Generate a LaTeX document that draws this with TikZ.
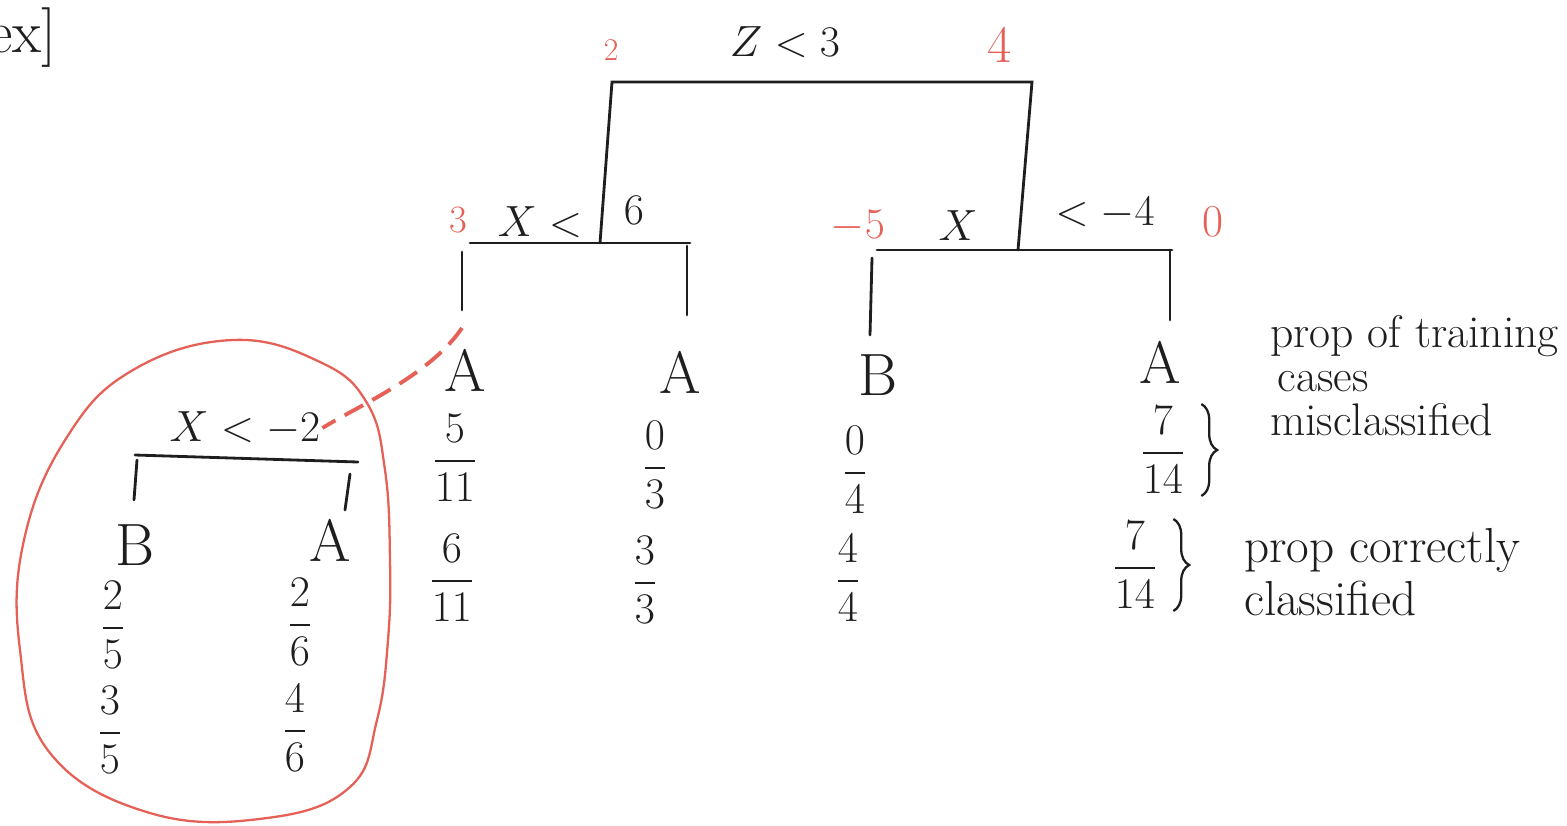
\documentclass[tikz,border=0pt]{standalone}
\usepackage{amsmath}
\usepackage{tikz}
\usetikzlibrary{positioning,calc,decorations.pathreplacing}
\usepackage{xcolor}
\definecolor{penred}{RGB}{229,96,86}
\definecolor{pencil}{RGB}{30,30,30}

\begin{document}
\begin{tikzpicture}[x=0.02cm, y=-0.02cm,
    branch/.style={draw=pencil, line width=1.6pt, line cap=round},
    splitlbl/.style={font=\fontsize{30}{32}\selectfont, text=pencil, inner sep=1pt},
    bound/.style={font=\fontsize{22}{24}\selectfont, text=penred, inner sep=1pt},
    leaf/.style={font=\fontsize{34}{36}\selectfont, text=pencil, inner sep=1pt},
    ratio/.style={font=\fontsize{26}{28}\selectfont, text=pencil, inner sep=1pt},
    note/.style={font=\fontsize{26}{25}\selectfont, text=pencil, align=left, anchor=west, inner sep=1pt},
    brace/.style={decorate, decoration={brace, amplitude=9pt}, draw=pencil, line width=1.3pt}
]
\useasboundingbox (0,0) rectangle (1567,825);

\node[leaf, anchor=west] (ex) at (-14,38) {ex]};

% root split
\node[splitlbl] (root) at (785,42) {$Z<3$};
\node[bound, font=\fontsize{18}{20}\selectfont] (rlo) at (611,50) {2};
\node[bound, font=\fontsize{30}{32}\selectfont] (rhi) at (1000,45) {4};
\coordinate (rbl) at (612,82);
\coordinate (rbr) at (1032,82);
\coordinate (rl) at (600,243);
\coordinate (rr) at (1018,250);
\draw[branch] (rl) -- (rbl) -- (rbr) -- (rr);

% left split
\node[bound] (llo) at (458,220) {3};
\node[splitlbl] (lsplit) at (540,222) {$X<$};
\node[splitlbl] (lhi) at (634,210) {$6$};
\coordinate (lbl) at (470,243);
\coordinate (lbr) at (690,243);
\draw[branch] (lbl) -- (lbr);
\coordinate (l1t) at (462,252);
\coordinate (l1b) at (462,310);
\coordinate (l2t) at (687,246);
\coordinate (l2b) at (687,315);
\draw[branch] (l1t) -- (l1b);
\draw[branch] (l2t) -- (l2b);

% right split
\node[bound, font=\fontsize{26}{28}\selectfont] (rslo) at (858,226) {$-5$};
\node[splitlbl] (rsplit) at (958,226) {$X$};
\node[splitlbl] (rshi) at (1105,213) {$<-4$};
\node[bound, font=\fontsize{26}{28}\selectfont] (rsz) at (1213,222) {0};
\coordinate (sbl) at (877,250);
\coordinate (sbr) at (1172,250);
\draw[branch] (sbl) -- (sbr);
\coordinate (s1t) at (872,258);
\coordinate (s1b) at (870,335);
\coordinate (s2t) at (1170,250);
\coordinate (s2b) at (1170,320);
\draw[branch] (s1t) -- (s1b);
\draw[branch] (s2t) -- (s2b);

% leaves
\node[leaf] (a1) at (465,370) {A};
\node[ratio] (a1m) at (455,458) {$\dfrac{5}{11}$};
\node[ratio] (a1c) at (452,578) {$\dfrac{6}{11}$};
\node[leaf] (a2) at (680,372) {A};
\node[ratio] (a2m) at (655,465) {$\dfrac{0}{3}$};
\node[ratio] (a2c) at (645,580) {$\dfrac{3}{3}$};
\node[leaf] (b3) at (878,375) {B};
\node[ratio] (b3m) at (855,470) {$\dfrac{0}{4}$};
\node[ratio] (b3c) at (848,578) {$\dfrac{4}{4}$};
\node[leaf] (a4) at (1160,362) {A};
\node[ratio] (a4m) at (1163,450) {$\dfrac{7}{14}$};
\node[ratio] (a4c) at (1135,565) {$\dfrac{7}{14}$};

% notes
\draw[brace] ([xshift=8pt]a4m.north east) -- ([xshift=8pt]a4m.south east);
\draw[brace] ([xshift=8pt]a4c.north east) -- ([xshift=8pt]a4c.south east);
\node[note] (mis) at (1268,376) {prop of training\\\,cases\\misclassified};
\node[note, font=\fontsize{28}{30}\selectfont] (cor) at (1242,572) {prop correctly\\classified};

% pruned subtree
\node[splitlbl] (sub) at (245,428) {$X<-2$};
\coordinate (ubl) at (135,455);
\coordinate (ubr) at (358,462);
\draw[branch] (ubl) -- (ubr);
\coordinate (u1t) at (137,460);
\coordinate (u1b) at (134,500);
\coordinate (u2t) at (350,474);
\coordinate (u2b) at (345,510);
\draw[branch] (u1t) -- (u1b);
\draw[branch] (u2t) -- (u2b);
\node[leaf] (ub) at (135,545) {B};
\node[leaf] (ua) at (330,540) {A};
\node[ratio] (ubm) at (113,625) {$\dfrac{2}{5}$};
\node[ratio] (ubc) at (110,730) {$\dfrac{3}{5}$};
\node[ratio] (uam) at (300,622) {$\dfrac{2}{6}$};
\node[ratio] (uac) at (295,728) {$\dfrac{4}{6}$};

\coordinate (cut) at (462,328);
\draw[penred, dashed, line width=2.2pt, dash pattern=on 12pt off 6pt] (cut) .. controls (430,375) and (360,405) .. (sub.east);

\draw[penred, line width=1.3pt] plot[smooth cycle, tension=0.7] coordinates {
  (233,340) (320,362) (367,403) (385,470) (390,560) (388,640) (377,720)
  (350,787) (267,818) (150,813) (50,753) (20,650) (24,540) (67,437) (133,370)};
\end{tikzpicture}
\end{document}
